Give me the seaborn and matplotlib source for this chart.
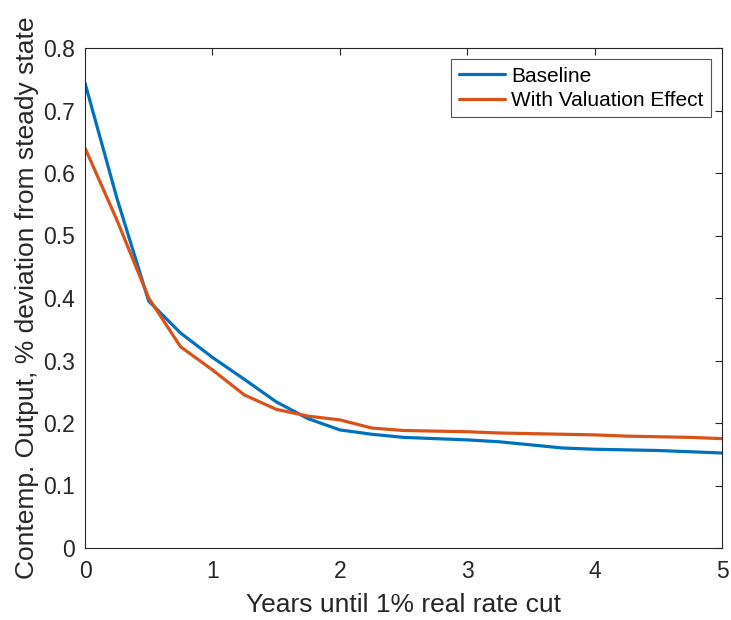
import numpy as np
import pandas as pd
import matplotlib
matplotlib.use("Agg")
import matplotlib.pyplot as plt
import seaborn as sns

years = [0, 0.25, 0.5, 0.75, 1, 1.25, 1.5, 1.75, 2, 2.25, 2.5, 2.75, 3, 3.25, 3.5, 3.75, 4, 4.25, 4.5, 4.75, 5]
baseline = [0.744, 0.560, 0.395, 0.344, 0.305, 0.270, 0.234, 0.207, 0.189, 0.182, 0.177, 0.175, 0.173, 0.170, 0.165, 0.160, 0.158, 0.157, 0.156, 0.154, 0.152]
valuation = [0.640, 0.525, 0.400, 0.322, 0.285, 0.245, 0.222, 0.211, 0.205, 0.192, 0.188, 0.187, 0.186, 0.184, 0.183, 0.182, 0.181, 0.179, 0.178, 0.177, 0.175]
series_names = ["Baseline", "With Valuation Effect"]
colors = ["#0072BD", "#D95319"]

df = pd.DataFrame({
    "Years": years * 2,
    "Value": baseline + valuation,
    "Series": [series_names[0]] * len(years) + [series_names[1]] * len(years),
})

sns.set_style("white")
plt.rcParams["font.family"] = ["Liberation Sans", "DejaVu Sans"]

fig = plt.figure(figsize=(7.31, 6.20), dpi=100)
ax = fig.add_axes([85 / 731, 1 - 548 / 620, (722 - 85) / 731, (548 - 48) / 620])

sns.lineplot(data=df, x="Years", y="Value", hue="Series", palette=colors,
             linewidth=2.3, ax=ax, legend=True)

ax.set_xlim(0, 5)
ax.set_ylim(0, 0.8)
ax.set_xticks([0, 1, 2, 3, 4, 5])
ax.set_xticklabels(["0", "1", "2", "3", "4", "5"])
ax.set_yticks([0, 0.1, 0.2, 0.3, 0.4, 0.5, 0.6, 0.7, 0.8])
ax.set_yticklabels(["0", "0.1", "0.2", "0.3", "0.4", "0.5", "0.6", "0.7", "0.8"])
ax.tick_params(direction="in", length=5, width=0.8, colors="#262626",
               labelsize=16.5, top=True, right=True)
ax.tick_params(axis="x", pad=9)
ax.tick_params(axis="y", pad=7)
for s in ax.spines.values():
    s.set_color("#262626")
    s.set_linewidth(0.8)
ax.set_xlabel("Years until 1% real rate cut", fontsize=19, color="#262626", labelpad=7)
ax.set_ylabel("Contemp. Output, % deviation from steady state", fontsize=19, color="#262626", labelpad=3)

leg = ax.legend(loc="upper right", fontsize=15, frameon=True, fancybox=False,
                edgecolor="#262626", handlelength=2.2, borderpad=0.35,
                labelspacing=0.25, handletextpad=0.3, borderaxespad=0.55)
leg.get_frame().set_linewidth(0.8)
for t in leg.get_texts():
    t.set_color("#000000")

fig.savefig("out.png", dpi=100)
